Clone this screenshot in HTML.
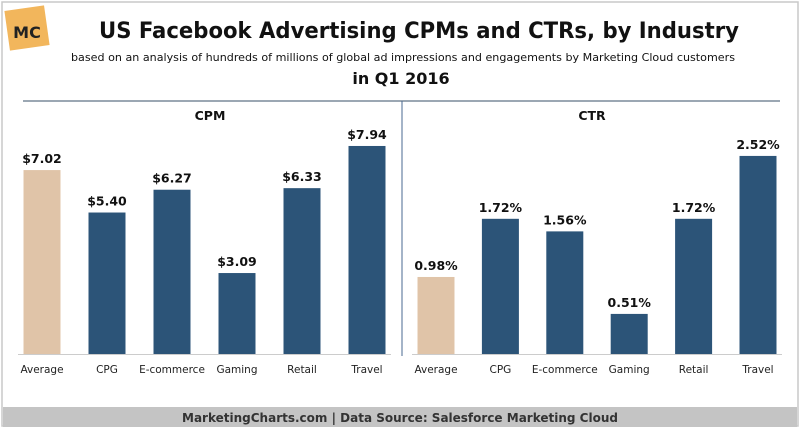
<!DOCTYPE html>
<html><head><meta charset="utf-8"><style>
body{margin:0;background:#fff;font-family:"DejaVu Sans","Liberation Sans",sans-serif}
#wrap{position:relative;width:800px;height:428px;overflow:hidden}
</style></head><body>
<div id="wrap">
<svg width="800" height="428" xmlns="http://www.w3.org/2000/svg" id="svg" font-family="DejaVu Sans, Liberation Sans, sans-serif">
<rect x="2" y="2" width="796" height="424" fill="#fff" stroke="#c8c8c8" stroke-width="1.5"/>
<g>
<rect x="7" y="8" width="40" height="40" fill="#f2b65c" transform="rotate(-8 27 28)"/>
<text x="27" y="38" text-anchor="middle" font-size="16" font-weight="bold" fill="#222">MC</text>
</g>
<text x="419" y="38" text-anchor="middle" font-size="22" font-weight="bold" fill="#111" textLength="640" lengthAdjust="spacingAndGlyphs">US Facebook Advertising CPMs and CTRs, by Industry</text>
<text x="403" y="61" text-anchor="middle" font-size="11" fill="#111" textLength="664" lengthAdjust="spacingAndGlyphs">based on an analysis of hundreds of millions of global ad impressions and engagements by Marketing Cloud customers</text>
<text x="401" y="84" text-anchor="middle" font-size="16" font-weight="bold" fill="#111">in Q1 2016</text>
<line x1="23" y1="101" x2="780" y2="101" stroke="#7a8a9a" stroke-width="1.5"/>
<line x1="402" y1="101" x2="402" y2="356" stroke="#4a6a90" stroke-width="1"/>
<text x="210" y="120" text-anchor="middle" font-size="12.5" font-weight="bold" fill="#111">CPM</text>
<text x="592" y="120" text-anchor="middle" font-size="12.5" font-weight="bold" fill="#111">CTR</text>
<g id="bars"></g>
<rect x="3" y="407" width="794" height="20" fill="#c4c4c4"/>
<text x="400" y="422" text-anchor="middle" font-size="12" font-weight="bold" fill="#333">MarketingCharts.com | Data Source: Salesforce Marketing Cloud</text>
</svg>
</div>
<script>
const categories = ["Average","CPG","E-commerce","Gaming","Retail","Travel"];
const cpmValues = [7.02,5.40,6.27,3.09,6.33,7.94];
const cpmLabels = ["$7.02","$5.40","$6.27","$3.09","$6.33","$7.94"];
const ctrValues = [0.98,1.72,1.56,0.51,1.72,2.52];
const ctrLabels = ["0.98%","1.72%","1.56%","0.51%","1.72%","2.52%"];

const NS="http://www.w3.org/2000/svg";
const g=document.getElementById('bars');
const base=354;
function mk(tag,attrs){const e=document.createElementNS(NS,tag);for(const k in attrs)e.setAttribute(k,attrs[k]);g.appendChild(e);return e;}
function panel(values,labels,x0,step,pxPerUnit,prefix){
  const bl=mk('line',{x1:x0-24,y1:base+0.5,x2:x0+step*5+24,y2:base+0.5,stroke:'#ccc','stroke-width':1});
  
  
  values.forEach((v,i)=>{
    const cx=x0+i*step, h=v*pxPerUnit;
    const r=mk('rect',{x:cx-18.5,y:base-h,width:37,height:h,fill:i===0?'#e0c4a8':'#2c5478'});
    
    
    const t=mk('text',{x:cx,y:base-h-7,'text-anchor':'middle','font-size':12.5,'font-weight':'bold',fill:'#111'});
    t.textContent=labels[i];
    
    
    const c=mk('text',{x:cx,y:373,'text-anchor':'middle','font-size':10.5,fill:'#222'});
    c.textContent=categories[i];
    
    
  });
}
panel(cpmValues,cpmLabels,42,65,26.2,'cpm');
panel(ctrValues,ctrLabels,436,64.4,78.6,'ctr');
</script>
</body></html>
